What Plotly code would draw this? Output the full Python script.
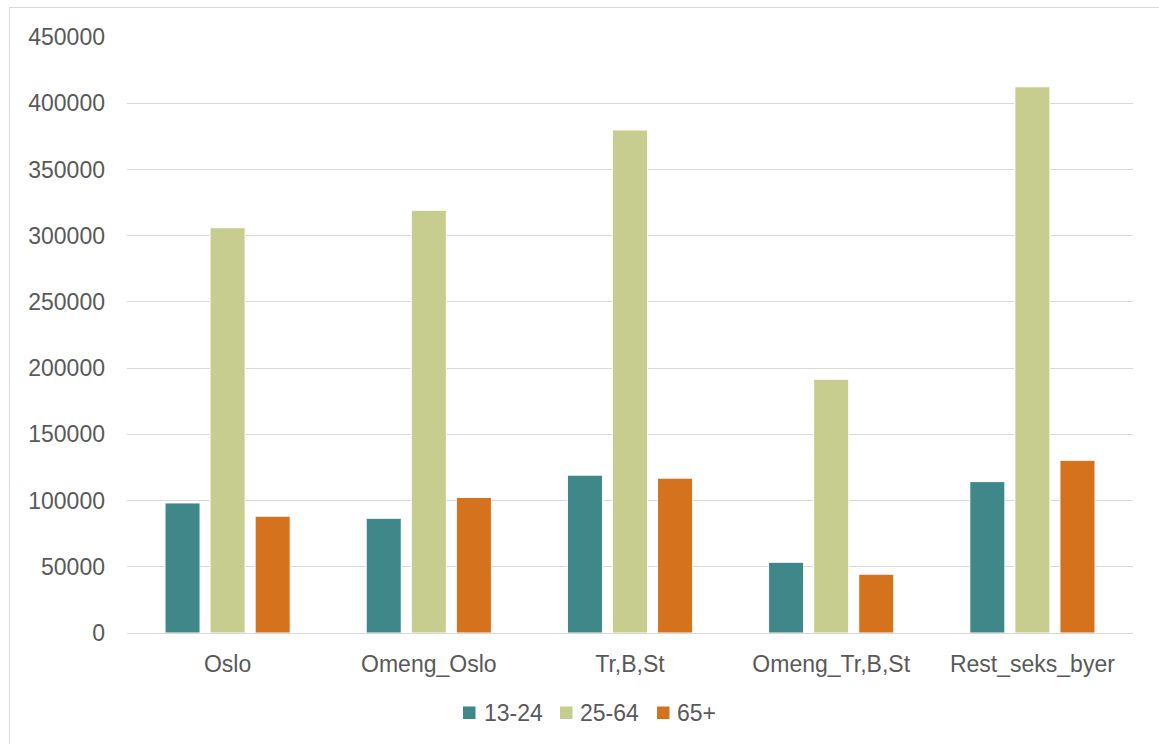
import plotly.graph_objects as go

categories = ["Oslo", "Omeng_Oslo", "Tr,B,St", "Omeng_Tr,B,St", "Rest_seks_byer"]
age_13_24 = [98200, 86600, 119200, 53400, 114300]
age_25_64 = [306000, 319200, 379800, 191600, 412400]
age_65_plus = [88200, 102300, 116900, 44400, 130400]
series_names = ["13-24", "25-64", "65+"]
colors = ["#40878A", "#C7CD8F", "#D4721E"]

W, H = 1159, 744
L, R, T, B = 127, 1133, 37, 633

fig = go.Figure()
for name, vals, col in zip(series_names, [age_13_24, age_25_64, age_65_plus], colors):
    fig.add_trace(go.Bar(x=categories, y=vals, name=name, showlegend=False,
                         marker=dict(color=col, line=dict(color="white", width=1))))

def px_to_paper_x(px):
    return (px - L) / (R - L)

def px_to_paper_y(py):
    return (B - py) / (B - T)

fig.add_shape(type="rect", xref="paper", yref="paper",
              x0=px_to_paper_x(9.5), x1=px_to_paper_x(1170), y0=px_to_paper_y(7.5), y1=px_to_paper_y(760),
              line=dict(color="#D9D9D9", width=1), fillcolor="rgba(0,0,0,0)", layer="below")

FONT_FAMILY = "Liberation Sans, Arial, sans-serif"
font = dict(family=FONT_FAMILY, size=23, color="#595959")

# manual legend (squares + text)
legend_square_x = [463, 560, 657]
legend_text_x = [482, 578, 675]
legend_y = 713
for name, col, sx, tx in zip(series_names, colors, legend_square_x, legend_text_x):
    fig.add_shape(type="rect", xref="paper", yref="paper",
                  x0=px_to_paper_x(sx), x1=px_to_paper_x(sx + 12.5),
                  y0=px_to_paper_y(legend_y - 6.5), y1=px_to_paper_y(legend_y + 6),
                  line=dict(width=0), fillcolor=col)
    fig.add_annotation(xref="paper", yref="paper", x=px_to_paper_x(tx), y=px_to_paper_y(legend_y),
                       xanchor="left", yanchor="middle", text=name, showarrow=False, font=font)

fig.update_layout(
    width=W, height=H,
    margin=dict(l=L, r=W - R, t=T, b=H - B, pad=0),
    paper_bgcolor="white", plot_bgcolor="white",
    barmode="group", bargap=0.328, bargroupgap=0.222,
    font=font,
    showlegend=False,
    xaxis=dict(showgrid=False, showline=True, linecolor="#D9D9D9", linewidth=1, ticks="",
               tickfont=font, ticklabelstandoff=10),
    yaxis=dict(range=[0, 450000], dtick=50000, showgrid=True, gridcolor="#D9D9D9", gridwidth=1,
               zeroline=False, showline=False, ticks="", tickformat="d", tickfont=font,
               ticklabelstandoff=21),
)
fig.write_html("out.html")
